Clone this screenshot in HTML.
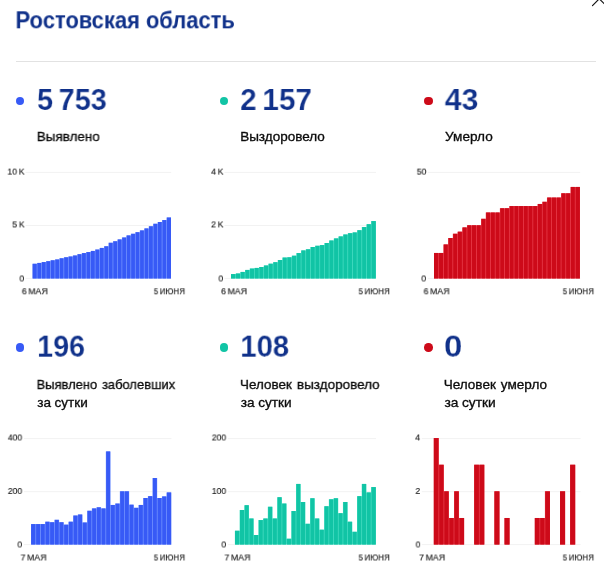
<!DOCTYPE html>
<html><head><meta charset="utf-8">
<style>
html,body{margin:0;padding:0;background:#fff;}
body{width:604px;height:578px;position:relative;overflow:hidden;font-family:"Liberation Sans",sans-serif;}
.tx{position:absolute;white-space:nowrap;transform-origin:0 0;will-change:transform;}
.title{font-size:23.5px;font-weight:bold;color:#10318a;line-height:28px;}
.hr{position:absolute;left:16px;top:60.7px;width:580px;height:1px;background:#e2e2e2;}
.dot{position:absolute;width:8.5px;height:8.5px;border-radius:50%;}
.num{font-size:30.8px;font-weight:bold;color:#10318a;line-height:32px;word-spacing:-2.6px;-webkit-text-stroke:0.2px #fff;}
.lab{font-size:13.5px;color:#0c0c0c;line-height:18px;-webkit-text-stroke:0.33px #0c0c0c;word-spacing:1.2px;}
.s0{word-spacing:-0.2px;}
.yl{font-size:9.5px;color:#1c1c1c;line-height:12px;word-spacing:-0.6px;-webkit-text-stroke:0.15px #1c1c1c;}
.xl{font-size:9.2px;color:#1c1c1c;line-height:12px;word-spacing:-1px;-webkit-text-stroke:0.15px #1c1c1c;}
svg{position:absolute;left:0;top:0;}
</style></head><body>
<svg width="604" height="578" viewBox="0 0 604 578"><rect x="25.6" y="171.9" width="145.6" height="1" fill="#f2f2f2"/><rect x="25.6" y="225.0" width="145.6" height="1" fill="#f2f2f2"/><rect x="25.6" y="277.9" width="145.6" height="1" fill="#f2f2f2"/><path d="M32.60 278.50L32.60 263.80L37.06 263.80L37.06 262.90L41.53 262.90L41.53 262.10L45.99 262.10L45.99 261.20L50.46 261.20L50.46 260.30L54.92 260.30L54.92 259.45L59.39 259.45L59.39 258.30L63.85 258.30L63.85 257.30L68.32 257.30L68.32 256.50L72.78 256.50L72.78 255.50L77.25 255.50L77.25 254.20L81.71 254.20L81.71 253.10L86.17 253.10L86.17 252.10L90.64 252.10L90.64 250.90L95.10 250.90L95.10 249.60L99.57 249.60L99.57 247.90L104.03 247.90L104.03 246.30L108.50 246.30L108.50 242.80L112.96 242.80L112.96 241.30L117.43 241.30L117.43 239.40L121.89 239.40L121.89 237.50L126.35 237.50L126.35 235.40L130.82 235.40L130.82 233.80L135.28 233.80L135.28 232.20L139.75 232.20L139.75 230.40L144.21 230.40L144.21 228.40L148.68 228.40L148.68 226.30L153.14 226.30L153.14 223.80L157.61 223.80L157.61 222.00L162.07 222.00L162.07 220.10L166.54 220.10L166.54 217.50L171.00 217.50L171.00 278.50Z" fill="#7a9aff"/><rect x="32.60" y="263.80" width="4.11" height="14.70" fill="#375af6"/><rect x="37.41" y="262.90" width="3.76" height="15.60" fill="#375af6"/><rect x="41.88" y="262.10" width="3.76" height="16.40" fill="#375af6"/><rect x="46.34" y="261.20" width="3.76" height="17.30" fill="#375af6"/><rect x="50.81" y="260.30" width="3.76" height="18.20" fill="#375af6"/><rect x="55.27" y="259.45" width="3.76" height="19.05" fill="#375af6"/><rect x="59.74" y="258.30" width="3.76" height="20.20" fill="#375af6"/><rect x="64.20" y="257.30" width="3.76" height="21.20" fill="#375af6"/><rect x="68.67" y="256.50" width="3.76" height="22.00" fill="#375af6"/><rect x="73.13" y="255.50" width="3.76" height="23.00" fill="#375af6"/><rect x="77.60" y="254.20" width="3.76" height="24.30" fill="#375af6"/><rect x="82.06" y="253.10" width="3.76" height="25.40" fill="#375af6"/><rect x="86.52" y="252.10" width="3.76" height="26.40" fill="#375af6"/><rect x="90.99" y="250.90" width="3.76" height="27.60" fill="#375af6"/><rect x="95.45" y="249.60" width="3.76" height="28.90" fill="#375af6"/><rect x="99.92" y="247.90" width="3.76" height="30.60" fill="#375af6"/><rect x="104.38" y="246.30" width="3.76" height="32.20" fill="#375af6"/><rect x="108.85" y="242.80" width="3.76" height="35.70" fill="#375af6"/><rect x="113.31" y="241.30" width="3.76" height="37.20" fill="#375af6"/><rect x="117.78" y="239.40" width="3.76" height="39.10" fill="#375af6"/><rect x="122.24" y="237.50" width="3.76" height="41.00" fill="#375af6"/><rect x="126.70" y="235.40" width="3.76" height="43.10" fill="#375af6"/><rect x="131.17" y="233.80" width="3.76" height="44.70" fill="#375af6"/><rect x="135.63" y="232.20" width="3.76" height="46.30" fill="#375af6"/><rect x="140.10" y="230.40" width="3.76" height="48.10" fill="#375af6"/><rect x="144.56" y="228.40" width="3.76" height="50.10" fill="#375af6"/><rect x="149.03" y="226.30" width="3.76" height="52.20" fill="#375af6"/><rect x="153.49" y="223.80" width="3.76" height="54.70" fill="#375af6"/><rect x="157.96" y="222.00" width="3.76" height="56.50" fill="#375af6"/><rect x="162.42" y="220.10" width="3.76" height="58.40" fill="#375af6"/><rect x="166.89" y="217.50" width="4.11" height="61.00" fill="#375af6"/><rect x="224.5" y="171.9" width="151.5" height="1" fill="#f2f2f2"/><rect x="224.5" y="225.0" width="151.5" height="1" fill="#f2f2f2"/><rect x="224.5" y="277.9" width="151.5" height="1" fill="#f2f2f2"/><path d="M231.00 278.50L231.00 274.10L235.67 274.10L235.67 273.50L240.34 273.50L240.34 271.90L245.01 271.90L245.01 269.90L249.68 269.90L249.68 268.60L254.35 268.60L254.35 267.90L259.03 267.90L259.03 267.00L263.70 267.00L263.70 265.50L268.37 265.50L268.37 263.70L273.04 263.70L273.04 262.20L277.71 262.20L277.71 260.00L282.38 260.00L282.38 257.60L287.05 257.60L287.05 257.30L291.72 257.30L291.72 255.70L296.39 255.70L296.39 253.10L301.06 253.10L301.06 250.40L305.74 250.40L305.74 249.30L310.41 249.30L310.41 247.00L315.08 247.00L315.08 245.80L319.75 245.80L319.75 245.10L324.42 245.10L324.42 243.00L329.09 243.00L329.09 240.50L333.76 240.50L333.76 238.40L338.43 238.40L338.43 236.40L343.10 236.40L343.10 234.50L347.77 234.50L347.77 233.20L352.45 233.20L352.45 232.40L357.12 232.40L357.12 230.20L361.79 230.20L361.79 227.10L366.46 227.10L366.46 224.20L371.13 224.20L371.13 221.10L375.80 221.10L375.80 278.50Z" fill="#4fe0c6"/><rect x="231.00" y="274.10" width="4.32" height="4.40" fill="#11c4a5"/><rect x="236.02" y="273.50" width="3.97" height="5.00" fill="#11c4a5"/><rect x="240.69" y="271.90" width="3.97" height="6.60" fill="#11c4a5"/><rect x="245.36" y="269.90" width="3.97" height="8.60" fill="#11c4a5"/><rect x="250.03" y="268.60" width="3.97" height="9.90" fill="#11c4a5"/><rect x="254.70" y="267.90" width="3.97" height="10.60" fill="#11c4a5"/><rect x="259.38" y="267.00" width="3.97" height="11.50" fill="#11c4a5"/><rect x="264.05" y="265.50" width="3.97" height="13.00" fill="#11c4a5"/><rect x="268.72" y="263.70" width="3.97" height="14.80" fill="#11c4a5"/><rect x="273.39" y="262.20" width="3.97" height="16.30" fill="#11c4a5"/><rect x="278.06" y="260.00" width="3.97" height="18.50" fill="#11c4a5"/><rect x="282.73" y="257.60" width="3.97" height="20.90" fill="#11c4a5"/><rect x="287.40" y="257.30" width="3.97" height="21.20" fill="#11c4a5"/><rect x="292.07" y="255.70" width="3.97" height="22.80" fill="#11c4a5"/><rect x="296.74" y="253.10" width="3.97" height="25.40" fill="#11c4a5"/><rect x="301.41" y="250.40" width="3.97" height="28.10" fill="#11c4a5"/><rect x="306.09" y="249.30" width="3.97" height="29.20" fill="#11c4a5"/><rect x="310.76" y="247.00" width="3.97" height="31.50" fill="#11c4a5"/><rect x="315.43" y="245.80" width="3.97" height="32.70" fill="#11c4a5"/><rect x="320.10" y="245.10" width="3.97" height="33.40" fill="#11c4a5"/><rect x="324.77" y="243.00" width="3.97" height="35.50" fill="#11c4a5"/><rect x="329.44" y="240.50" width="3.97" height="38.00" fill="#11c4a5"/><rect x="334.11" y="238.40" width="3.97" height="40.10" fill="#11c4a5"/><rect x="338.78" y="236.40" width="3.97" height="42.10" fill="#11c4a5"/><rect x="343.45" y="234.50" width="3.97" height="44.00" fill="#11c4a5"/><rect x="348.12" y="233.20" width="3.97" height="45.30" fill="#11c4a5"/><rect x="352.80" y="232.40" width="3.97" height="46.10" fill="#11c4a5"/><rect x="357.47" y="230.20" width="3.97" height="48.30" fill="#11c4a5"/><rect x="362.14" y="227.10" width="3.97" height="51.40" fill="#11c4a5"/><rect x="366.81" y="224.20" width="3.97" height="54.30" fill="#11c4a5"/><rect x="371.48" y="221.10" width="4.32" height="57.40" fill="#11c4a5"/><rect x="427.9" y="171.9" width="152.3" height="1" fill="#f2f2f2"/><rect x="427.9" y="277.9" width="152.3" height="1" fill="#f2f2f2"/><path d="M434.00 278.50L434.00 252.94L438.71 252.94L438.71 252.94L443.41 252.94L443.41 244.42L448.12 244.42L448.12 238.03L452.83 238.03L452.83 233.77L457.53 233.77L457.53 231.64L462.24 231.64L462.24 227.38L466.95 227.38L466.95 225.25L471.65 225.25L471.65 225.25L476.36 225.25L476.36 225.25L481.06 225.25L481.06 218.86L485.77 218.86L485.77 212.47L490.48 212.47L490.48 212.47L495.18 212.47L495.18 212.47L499.89 212.47L499.89 208.21L504.60 208.21L504.60 208.21L509.30 208.21L509.30 206.08L514.01 206.08L514.01 206.08L518.72 206.08L518.72 206.08L523.42 206.08L523.42 206.08L528.13 206.08L528.13 206.08L532.84 206.08L532.84 206.08L537.54 206.08L537.54 203.95L542.25 203.95L542.25 201.82L546.95 201.82L546.95 197.56L551.66 197.56L551.66 197.56L556.37 197.56L556.37 197.56L561.07 197.56L561.07 193.30L565.78 193.30L565.78 193.30L570.49 193.30L570.49 186.91L575.19 186.91L575.19 186.91L579.90 186.91L579.90 278.50Z" fill="#ec4452"/><rect x="434.00" y="252.94" width="4.36" height="25.56" fill="#cd0a19"/><rect x="439.06" y="252.94" width="4.01" height="25.56" fill="#cd0a19"/><rect x="443.76" y="244.42" width="4.01" height="34.08" fill="#cd0a19"/><rect x="448.47" y="238.03" width="4.01" height="40.47" fill="#cd0a19"/><rect x="453.18" y="233.77" width="4.01" height="44.73" fill="#cd0a19"/><rect x="457.88" y="231.64" width="4.01" height="46.86" fill="#cd0a19"/><rect x="462.59" y="227.38" width="4.01" height="51.12" fill="#cd0a19"/><rect x="467.30" y="225.25" width="4.01" height="53.25" fill="#cd0a19"/><rect x="472.00" y="225.25" width="4.01" height="53.25" fill="#cd0a19"/><rect x="476.71" y="225.25" width="4.01" height="53.25" fill="#cd0a19"/><rect x="481.41" y="218.86" width="4.01" height="59.64" fill="#cd0a19"/><rect x="486.12" y="212.47" width="4.01" height="66.03" fill="#cd0a19"/><rect x="490.83" y="212.47" width="4.01" height="66.03" fill="#cd0a19"/><rect x="495.53" y="212.47" width="4.01" height="66.03" fill="#cd0a19"/><rect x="500.24" y="208.21" width="4.01" height="70.29" fill="#cd0a19"/><rect x="504.95" y="208.21" width="4.01" height="70.29" fill="#cd0a19"/><rect x="509.65" y="206.08" width="4.01" height="72.42" fill="#cd0a19"/><rect x="514.36" y="206.08" width="4.01" height="72.42" fill="#cd0a19"/><rect x="519.07" y="206.08" width="4.01" height="72.42" fill="#cd0a19"/><rect x="523.77" y="206.08" width="4.01" height="72.42" fill="#cd0a19"/><rect x="528.48" y="206.08" width="4.01" height="72.42" fill="#cd0a19"/><rect x="533.19" y="206.08" width="4.01" height="72.42" fill="#cd0a19"/><rect x="537.89" y="203.95" width="4.01" height="74.55" fill="#cd0a19"/><rect x="542.60" y="201.82" width="4.01" height="76.68" fill="#cd0a19"/><rect x="547.30" y="197.56" width="4.01" height="80.94" fill="#cd0a19"/><rect x="552.01" y="197.56" width="4.01" height="80.94" fill="#cd0a19"/><rect x="556.72" y="197.56" width="4.01" height="80.94" fill="#cd0a19"/><rect x="561.42" y="193.30" width="4.01" height="85.20" fill="#cd0a19"/><rect x="566.13" y="193.30" width="4.01" height="85.20" fill="#cd0a19"/><rect x="570.84" y="186.91" width="4.01" height="91.59" fill="#cd0a19"/><rect x="575.54" y="186.91" width="4.36" height="91.59" fill="#cd0a19"/><rect x="23.9" y="438.1" width="147.5" height="1" fill="#f2f2f2"/><rect x="23.9" y="491.2" width="147.5" height="1" fill="#f2f2f2"/><rect x="23.9" y="544.1" width="147.5" height="1" fill="#f2f2f2"/><path d="M31.10 544.60L31.10 524.10L35.77 524.10L35.77 524.10L40.44 524.10L40.44 524.10L45.11 524.10L45.11 521.70L49.78 521.70L49.78 522.24L54.45 522.24L54.45 519.84L59.12 519.84L59.12 522.24L63.79 522.24L63.79 524.63L68.46 524.63L68.46 521.70L73.13 521.70L73.13 515.58L77.80 515.58L77.80 514.51L82.47 514.51L82.47 522.50L87.14 522.50L87.14 510.79L91.81 510.79L91.81 508.39L96.48 508.39L96.48 507.33L101.15 507.33L101.15 508.39L105.82 508.39L105.82 451.41L110.49 451.41L110.49 504.93L115.16 504.93L115.16 503.60L119.83 503.60L119.83 491.35L124.50 491.35L124.50 491.35L129.17 491.35L129.17 504.66L133.84 504.66L133.84 507.86L138.51 507.86L138.51 504.93L143.18 504.93L143.18 498.01L147.85 498.01L147.85 496.14L152.52 496.14L152.52 478.04L157.19 478.04L157.19 498.01L161.86 498.01L161.86 496.41L166.53 496.41L166.53 492.42L171.20 492.42L171.20 544.60Z" fill="#7a9aff"/><rect x="31.10" y="524.10" width="4.32" height="20.50" fill="#375af6"/><rect x="36.12" y="524.10" width="3.97" height="20.50" fill="#375af6"/><rect x="40.79" y="524.10" width="3.97" height="20.50" fill="#375af6"/><rect x="45.46" y="521.70" width="3.97" height="22.90" fill="#375af6"/><rect x="50.13" y="522.24" width="3.97" height="22.36" fill="#375af6"/><rect x="54.80" y="519.84" width="3.97" height="24.76" fill="#375af6"/><rect x="59.47" y="522.24" width="3.97" height="22.36" fill="#375af6"/><rect x="64.14" y="524.63" width="3.97" height="19.97" fill="#375af6"/><rect x="68.81" y="521.70" width="3.97" height="22.90" fill="#375af6"/><rect x="73.48" y="515.58" width="3.97" height="29.02" fill="#375af6"/><rect x="78.15" y="514.51" width="3.97" height="30.09" fill="#375af6"/><rect x="82.82" y="522.50" width="3.97" height="22.10" fill="#375af6"/><rect x="87.49" y="510.79" width="3.97" height="33.81" fill="#375af6"/><rect x="92.16" y="508.39" width="3.97" height="36.21" fill="#375af6"/><rect x="96.83" y="507.33" width="3.97" height="37.27" fill="#375af6"/><rect x="101.50" y="508.39" width="3.97" height="36.21" fill="#375af6"/><rect x="106.17" y="451.41" width="3.97" height="93.19" fill="#375af6"/><rect x="110.84" y="504.93" width="3.97" height="39.67" fill="#375af6"/><rect x="115.51" y="503.60" width="3.97" height="41.00" fill="#375af6"/><rect x="120.18" y="491.35" width="3.97" height="53.25" fill="#375af6"/><rect x="124.85" y="491.35" width="3.97" height="53.25" fill="#375af6"/><rect x="129.52" y="504.66" width="3.97" height="39.94" fill="#375af6"/><rect x="134.19" y="507.86" width="3.97" height="36.74" fill="#375af6"/><rect x="138.86" y="504.93" width="3.97" height="39.67" fill="#375af6"/><rect x="143.53" y="498.01" width="3.97" height="46.59" fill="#375af6"/><rect x="148.20" y="496.14" width="3.97" height="48.46" fill="#375af6"/><rect x="152.87" y="478.04" width="3.97" height="66.56" fill="#375af6"/><rect x="157.54" y="498.01" width="3.97" height="46.59" fill="#375af6"/><rect x="162.21" y="496.41" width="3.97" height="48.19" fill="#375af6"/><rect x="166.88" y="492.42" width="4.32" height="52.19" fill="#375af6"/><rect x="227.9" y="438.1" width="148.1" height="1" fill="#f2f2f2"/><rect x="227.9" y="491.2" width="148.1" height="1" fill="#f2f2f2"/><rect x="227.9" y="544.1" width="148.1" height="1" fill="#f2f2f2"/><path d="M234.95 544.60L234.95 530.75L239.64 530.75L239.64 509.99L244.34 509.99L244.34 505.20L249.03 505.20L249.03 518.51L253.73 518.51L253.73 535.01L258.43 535.01L258.43 520.11L263.12 520.11L263.12 518.51L267.81 518.51L267.81 506.79L272.51 506.79L272.51 518.51L277.20 518.51L277.20 497.21L281.90 497.21L281.90 503.60L286.59 503.60L286.60 538.74L291.29 538.74L291.29 511.05L295.99 511.05L295.99 483.90L300.68 483.90L300.68 502.00L305.38 502.00L305.38 523.83L310.07 523.83L310.07 498.27L314.76 498.27L314.76 518.51L319.46 518.51L319.46 529.69L324.16 529.69L324.16 506.26L328.85 506.26L328.85 499.34L333.55 499.34L333.55 498.27L338.24 498.27L338.24 513.18L342.94 513.18L342.94 502.00L347.63 502.00L347.63 521.70L352.32 521.70L352.33 531.82L357.02 531.82L357.02 496.14L361.72 496.14L361.72 483.90L366.41 483.90L366.41 492.42L371.11 492.42L371.11 487.09L375.80 487.09L375.80 544.60Z" fill="#4fe0c6"/><rect x="234.95" y="530.75" width="4.34" height="13.85" fill="#11c4a5"/><rect x="239.99" y="509.99" width="4.00" height="34.61" fill="#11c4a5"/><rect x="244.69" y="505.20" width="4.00" height="39.41" fill="#11c4a5"/><rect x="249.38" y="518.51" width="4.00" height="26.09" fill="#11c4a5"/><rect x="254.08" y="535.01" width="4.00" height="9.59" fill="#11c4a5"/><rect x="258.78" y="520.11" width="3.99" height="24.50" fill="#11c4a5"/><rect x="263.47" y="518.51" width="3.99" height="26.09" fill="#11c4a5"/><rect x="268.17" y="506.79" width="3.99" height="37.81" fill="#11c4a5"/><rect x="272.86" y="518.51" width="3.99" height="26.09" fill="#11c4a5"/><rect x="277.56" y="497.21" width="3.99" height="47.39" fill="#11c4a5"/><rect x="282.25" y="503.60" width="3.99" height="41.00" fill="#11c4a5"/><rect x="286.95" y="538.74" width="3.99" height="5.86" fill="#11c4a5"/><rect x="291.64" y="511.05" width="3.99" height="33.55" fill="#11c4a5"/><rect x="296.34" y="483.90" width="3.99" height="60.70" fill="#11c4a5"/><rect x="301.03" y="502.00" width="3.99" height="42.60" fill="#11c4a5"/><rect x="305.73" y="523.83" width="3.99" height="20.77" fill="#11c4a5"/><rect x="310.42" y="498.27" width="3.99" height="46.33" fill="#11c4a5"/><rect x="315.12" y="518.51" width="3.99" height="26.09" fill="#11c4a5"/><rect x="319.81" y="529.69" width="3.99" height="14.91" fill="#11c4a5"/><rect x="324.51" y="506.26" width="3.99" height="38.34" fill="#11c4a5"/><rect x="329.20" y="499.34" width="3.99" height="45.26" fill="#11c4a5"/><rect x="333.90" y="498.27" width="3.99" height="46.33" fill="#11c4a5"/><rect x="338.59" y="513.18" width="3.99" height="31.42" fill="#11c4a5"/><rect x="343.29" y="502.00" width="3.99" height="42.60" fill="#11c4a5"/><rect x="347.98" y="521.70" width="3.99" height="22.90" fill="#11c4a5"/><rect x="352.68" y="531.82" width="3.99" height="12.78" fill="#11c4a5"/><rect x="357.37" y="496.14" width="3.99" height="48.46" fill="#11c4a5"/><rect x="362.07" y="483.90" width="3.99" height="60.70" fill="#11c4a5"/><rect x="366.76" y="492.42" width="3.99" height="52.19" fill="#11c4a5"/><rect x="371.46" y="487.09" width="4.34" height="57.51" fill="#11c4a5"/><rect x="421.8" y="438.1" width="158.8" height="1" fill="#f2f2f2"/><rect x="421.8" y="491.2" width="158.8" height="1" fill="#f2f2f2"/><rect x="421.8" y="544.1" width="158.8" height="1" fill="#f2f2f2"/><path d="M433.80 544.60L433.80 438.10L438.85 438.10L438.85 464.73L443.90 464.73L443.90 491.35L448.95 491.35L448.95 517.98L454.00 517.98L454.00 491.35L459.05 491.35L459.05 517.98L464.10 517.98L464.10 544.60L469.15 544.60L469.15 544.60L474.20 544.60L474.20 464.73L479.25 464.73L479.25 464.73L484.30 464.73L484.30 544.60L489.35 544.60L489.35 544.60L494.40 544.60L494.40 491.35L499.45 491.35L499.45 544.60L504.50 544.60L504.50 517.98L509.55 517.98L509.55 544.60L514.60 544.60L514.60 544.60L519.65 544.60L519.65 544.60L524.70 544.60L524.70 544.60L529.75 544.60L529.75 544.60L534.80 544.60L534.80 517.98L539.85 517.98L539.85 517.98L544.90 517.98L544.90 491.35L549.95 491.35L549.95 544.60L555.00 544.60L555.00 544.60L560.05 544.60L560.05 491.35L565.10 491.35L565.10 544.60L570.15 544.60L570.15 464.73L575.20 464.73L575.20 544.60L580.25 544.60L580.25 544.60Z" fill="#ec4452"/><rect x="433.80" y="438.10" width="4.70" height="106.50" fill="#cd0a19"/><rect x="439.20" y="464.73" width="4.35" height="79.88" fill="#cd0a19"/><rect x="444.25" y="491.35" width="4.35" height="53.25" fill="#cd0a19"/><rect x="449.30" y="517.98" width="4.35" height="26.62" fill="#cd0a19"/><rect x="454.35" y="491.35" width="4.35" height="53.25" fill="#cd0a19"/><rect x="459.40" y="517.98" width="4.70" height="26.62" fill="#cd0a19"/><rect x="474.20" y="464.73" width="4.70" height="79.88" fill="#cd0a19"/><rect x="479.60" y="464.73" width="4.70" height="79.88" fill="#cd0a19"/><rect x="494.40" y="491.35" width="5.05" height="53.25" fill="#cd0a19"/><rect x="504.50" y="517.98" width="5.05" height="26.62" fill="#cd0a19"/><rect x="534.80" y="517.98" width="4.70" height="26.62" fill="#cd0a19"/><rect x="540.20" y="517.98" width="4.35" height="26.62" fill="#cd0a19"/><rect x="545.25" y="491.35" width="4.70" height="53.25" fill="#cd0a19"/><rect x="560.05" y="491.35" width="5.05" height="53.25" fill="#cd0a19"/><rect x="570.15" y="464.73" width="5.05" height="79.88" fill="#cd0a19"/><path d="M592.5 5.55 L600.3 -2.25 M598.2 -2.25 L606 5.55" stroke="#111" stroke-width="1.15" fill="none" stroke-linecap="round"/></svg>
<div class="hr"></div>
<div class="dot" style="left:15.7px;top:96.55px;background:#375af6"></div><div class="dot" style="left:15.7px;top:343.0px;background:#375af6"></div><div class="dot" style="left:219.85px;top:96.55px;background:#11c4a5"></div><div class="dot" style="left:219.85px;top:343.0px;background:#11c4a5"></div><div class="dot" style="left:424.0px;top:96.55px;background:#cd0a19"></div><div class="dot" style="left:424.0px;top:343.0px;background:#cd0a19"></div><div class="tx title" style="left:15px;top:6px;transform:translate(0.50px,0.30px) scale(0.9334,1)">Ростовская область</div><div class="tx num" style="left:37px;top:85px;transform:translate(0.03px,0.10px) scale(0.9376,0.955)">5 753</div><div class="tx num" style="left:240px;top:85px;transform:translate(0.13px,0.10px) scale(0.9646,0.955)">2 157</div><div class="tx num" style="left:444px;top:85px;transform:translate(0.75px,0.10px) scale(0.9784,0.955)">43</div><div class="tx num" style="left:37px;top:331px;transform:translate(0.08px,0.80px) scale(0.9317,0.955)">196</div><div class="tx num" style="left:240px;top:331px;transform:translate(0.27px,0.80px) scale(0.9494,0.955)">108</div><div class="tx num" style="left:443px;top:331px;transform:translate(0.98px,0.80px) scale(1.0730,0.955)">0</div><div class="tx lab" style="left:36px;top:128px;transform:translate(0.70px,0.00px) scale(0.9968,1)">Выявлено</div><div class="tx lab" style="left:240px;top:128px;transform:translate(0.13px,0.00px) scale(1.0014,1)">Выздоровело</div><div class="tx lab" style="left:445px;top:128px;transform:translate(0.10px,0.00px) scale(1.0066,1)">Умерло</div><div class="tx lab" style="left:36px;top:376px;transform:translate(0.55px,0.00px) scale(0.9589,1)">Выявлено заболевших</div><div class="tx lab" style="left:239px;top:376px;transform:translate(0.92px,0.00px) scale(0.9990,1)">Человек выздоровело</div><div class="tx lab" style="left:443px;top:376px;transform:translate(0.65px,0.00px) scale(1.0038,1)">Человек умерло</div><div class="tx lab s0" style="left:37px;top:394px;transform:translate(0.25px,0.00px) scale(1.0018,1)">за сутки</div><div class="tx lab s0" style="left:240px;top:394px;transform:translate(0.82px,0.00px) scale(1.0089,1)">за сутки</div><div class="tx lab s0" style="left:444px;top:394px;transform:translate(0.38px,0.00px) scale(1.0200,1)">за сутки</div><div class="tx yl" style="left:7px;top:165px;transform:translate(0.40px,0.60px) scale(0.9100,1)">10 K</div><div class="tx yl" style="left:12px;top:218px;transform:translate(0.30px,0.40px) scale(0.9100,1)">5 K</div><div class="tx yl" style="left:19px;top:272px;transform:translate(0.40px,0.45px) scale(0.9100,1)">0</div><div class="tx yl" style="left:211px;top:165px;transform:translate(0.10px,0.60px) scale(0.9100,1)">4 K</div><div class="tx yl" style="left:211px;top:218px;transform:translate(0.10px,0.40px) scale(0.9100,1)">2 K</div><div class="tx yl" style="left:218px;top:272px;transform:translate(0.40px,0.45px) scale(0.9100,1)">0</div><div class="tx yl" style="left:416px;top:165px;transform:translate(0.80px,0.60px) scale(0.9100,1)">50</div><div class="tx yl" style="left:421px;top:272px;transform:translate(0.30px,0.45px) scale(0.9100,1)">0</div><div class="tx yl" style="left:7px;top:431px;transform:translate(0.80px,0.45px) scale(0.9100,1)">400</div><div class="tx yl" style="left:7px;top:485px;transform:translate(0.80px,0.00px) scale(0.9100,1)">200</div><div class="tx yl" style="left:17px;top:538px;transform:translate(0.35px,0.50px) scale(0.9100,1)">0</div><div class="tx yl" style="left:211px;top:431px;transform:translate(0.80px,0.45px) scale(0.9100,1)">200</div><div class="tx yl" style="left:211px;top:485px;transform:translate(0.80px,0.00px) scale(0.9100,1)">100</div><div class="tx yl" style="left:221px;top:538px;transform:translate(0.35px,0.50px) scale(0.9100,1)">0</div><div class="tx yl" style="left:415px;top:431px;transform:translate(0.15px,0.45px) scale(0.9100,1)">4</div><div class="tx yl" style="left:415px;top:485px;transform:translate(0.40px,0.00px) scale(0.9100,1)">2</div><div class="tx yl" style="left:415px;top:538px;transform:translate(0.60px,0.50px) scale(0.9100,1)">0</div><div class="tx xl" style="left:21px;top:285px;transform:translate(0.80px,0.30px) scale(0.9600,1)">6 МАЯ</div><div class="tx xl" style="left:153px;top:285px;transform:translate(0.80px,0.30px) scale(0.8700,1)">5 ИЮНЯ</div><div class="tx xl" style="left:221px;top:285px;transform:translate(0.05px,0.30px) scale(0.9600,1)">6 МАЯ</div><div class="tx xl" style="left:358px;top:285px;transform:translate(0.57px,0.30px) scale(0.8700,1)">5 ИЮНЯ</div><div class="tx xl" style="left:423px;top:285px;transform:translate(0.55px,0.30px) scale(0.9600,1)">6 МАЯ</div><div class="tx xl" style="left:562px;top:285px;transform:translate(0.75px,0.30px) scale(0.8700,1)">5 ИЮНЯ</div><div class="tx xl" style="left:20px;top:551px;transform:translate(0.55px,0.50px) scale(0.9600,1)">7 МАЯ</div><div class="tx xl" style="left:153px;top:551px;transform:translate(0.80px,0.50px) scale(0.8700,1)">5 ИЮНЯ</div><div class="tx xl" style="left:224px;top:551px;transform:translate(0.43px,0.50px) scale(0.9600,1)">7 МАЯ</div><div class="tx xl" style="left:358px;top:551px;transform:translate(0.57px,0.50px) scale(0.8700,1)">5 ИЮНЯ</div><div class="tx xl" style="left:419px;top:551px;transform:translate(0.10px,0.50px) scale(0.9600,1)">7 МАЯ</div><div class="tx xl" style="left:562px;top:551px;transform:translate(0.75px,0.50px) scale(0.8700,1)">5 ИЮНЯ</div></body></html>
